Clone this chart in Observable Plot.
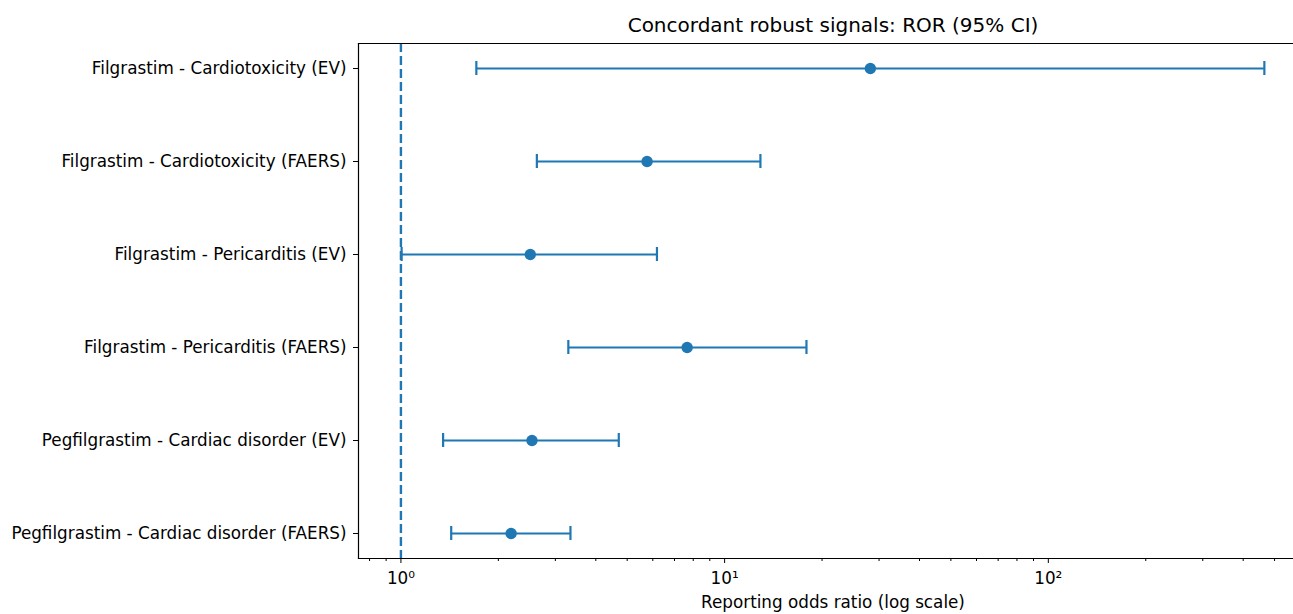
<!DOCTYPE html>
<html>
<head>
<meta charset="utf-8">
<script src="https://cdn.jsdelivr.net/npm/d3@7"></script>
<script src="https://cdn.jsdelivr.net/npm/@observablehq/plot@0.6"></script>
<style>
  html, body { margin: 0; padding: 0; background: #fff; overflow: hidden; }
  #wrap { width: 1293px; height: 614px; overflow: hidden; }
  #wrap svg { max-width: none !important; overflow: hidden !important; display: block; }
</style>
</head>
<body>
<div id="wrap"></div>
<script>
const labels = [
  "Filgrastim - Cardiotoxicity (EV)",
  "Filgrastim - Cardiotoxicity (FAERS)",
  "Filgrastim - Pericarditis (EV)",
  "Filgrastim - Pericarditis (FAERS)",
  "Pegfilgrastim - Cardiac disorder (EV)",
  "Pegfilgrastim - Cardiac disorder (FAERS)"
];
const ror   = [28.2, 5.76, 2.51, 7.66, 2.54, 2.19];
const lower = [1.71, 2.63, 1.005, 3.29, 1.35, 1.43];
const upper = [465, 12.9, 6.18, 17.9, 4.71, 3.34];
const majorTicks = [1, 10, 100];
const majorTickLabels = ["10\u2070", "10\u00b9", "10\u00b2"];
const minorTicks = [0.8, 0.9, 2, 3, 4, 5, 6, 7, 8, 9, 20, 30, 40, 50, 60, 70, 80, 90, 200, 300, 400, 500, 600];
const title = "Concordant robust signals: ROR (95% CI)";
const xLabel = "Reporting odds ratio (log scale)";
const refLine = [1];

const data = labels.map((label, i) => ({label, ror: ror[i], lower: lower[i], upper: upper[i]}));
const blue = "#1f77b4";

const chart = Plot.plot({
  width: 1293,
  height: 614,
  marginLeft: 358,
  marginRight: -14,
  marginTop: 43,
  marginBottom: 56,
  style: {fontFamily: "'DejaVu Sans', sans-serif", fontSize: "16.8px", color: "black", background: "white"},
  x: {type: "log", domain: [0.7395, 632]},
  y: {type: "band", domain: labels, paddingInner: 0.85, paddingOuter: 0.175},
  marks: [
    Plot.ruleX(refLine, {stroke: blue, strokeWidth: 2.4, strokeDasharray: "9,4"}),
    Plot.ruleY(data, {x1: "lower", x2: "upper", y: "label", stroke: blue, strokeWidth: 2.2}),
    Plot.tickX(data, {x: "lower", y: "label", stroke: blue, strokeWidth: 2.2}),
    Plot.tickX(data, {x: "upper", y: "label", stroke: blue, strokeWidth: 2.2}),
    Plot.dot(data, {x: "ror", y: "label", r: 5.7, fill: blue, stroke: "none"}),
    Plot.frame({anchor: "top", stroke: "black", strokeWidth: 1.2}),
    Plot.frame({anchor: "left", stroke: "black", strokeWidth: 1.2}),
    Plot.frame({anchor: "bottom", stroke: "black", strokeWidth: 1.2}),
    Plot.axisY({tickSize: 5, tickPadding: 7, label: null, fontSize: 16.8}),
    Plot.axisX(minorTicks, {tickSize: 3, tickFormat: () => "", label: null}),
    Plot.axisX(majorTicks, {tickSize: 5, tickPadding: 9, label: null, fontSize: 16.8,
      tickFormat: d => majorTickLabels[majorTicks.indexOf(d)]}),
    Plot.text([title], {frameAnchor: "top", lineAnchor: "middle", dy: -18, fontSize: 20, fill: "black"}),
    Plot.text([xLabel], {frameAnchor: "bottom", lineAnchor: "middle", dy: 44, fontSize: 16.8, fill: "black"})
  ]
});
document.getElementById("wrap").appendChild(chart);
</script>
</body>
</html>
